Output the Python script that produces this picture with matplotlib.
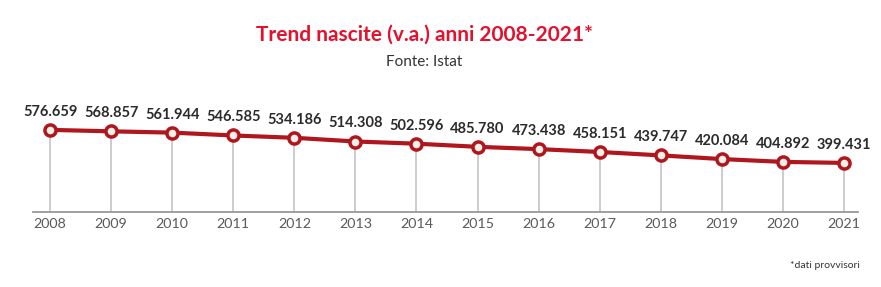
import matplotlib
matplotlib.use("Agg")
import matplotlib.pyplot as plt

plt.rcParams['font.family'] = ['Lato', 'DejaVu Sans']

anni = [2008, 2009, 2010, 2011, 2012, 2013, 2014, 2015, 2016, 2017, 2018, 2019, 2020, 2021]
nascite = [576659, 568857, 561944, 546585, 534186, 514308, 502596, 485780, 473438, 458151, 439747, 420084, 404892, 399431]
etichette = ['576.659', '568.857', '561.944', '546.585', '534.186', '514.308', '502.596',
             '485.780', '473.438', '458.151', '439.747', '420.084', '404.892', '399.431']

rosso = '#b0161d'

fig = plt.figure(figsize=(8.81, 2.87), dpi=100)
ax = fig.add_axes([33/881, 75/287, 825/881, 112/287])

ymin = 136000
for x, y in zip(anni, nascite):
    ax.plot([x, x], [ymin, y], color='#c8c8c8', lw=1.3, zorder=1)

ax.plot(anni, nascite, color=rosso, lw=3, marker='o', markersize=8,
        markerfacecolor='#f3efe9', markeredgecolor=rosso, markeredgewidth=2.5, zorder=3)

for x, y, t in zip(anni, nascite, etichette):
    ax.annotate(t, (x, y), xytext=(0, 8), textcoords='offset points', ha='center', va='bottom',
                fontsize=10.5, fontweight='bold', color='#2b2b2b')

ax.set_xlim(2007.72, 2021.23)
ax.set_ylim(ymin, 737000)
ax.set_xticks(anni)
ax.set_xticklabels([str(a) for a in anni], fontsize=10.3, color='#5a5a5a')
ax.tick_params(axis='x', length=0, pad=4)
ax.set_yticks([])
for s in ['top', 'right', 'left']:
    ax.spines[s].set_visible(False)
ax.spines['bottom'].set_color('#999999')
ax.spines['bottom'].set_linewidth(1.3)

fig.text(424/881, 1 - 35/287, 'Trend nascite (v.a.) anni 2008-2021*', ha='center', va='center',
         fontsize=15, fontweight='bold', color='#e5102c')
fig.text(424/881, 1 - 62/287, 'Fonte: Istat', ha='center', va='center', fontsize=11, color='#333333')
fig.text(860/881, 1 - 265/287, '*dati provvisori', ha='right', va='center', fontsize=7.5, color='#333333')

fig.savefig('out.png', dpi=100, facecolor='white')
